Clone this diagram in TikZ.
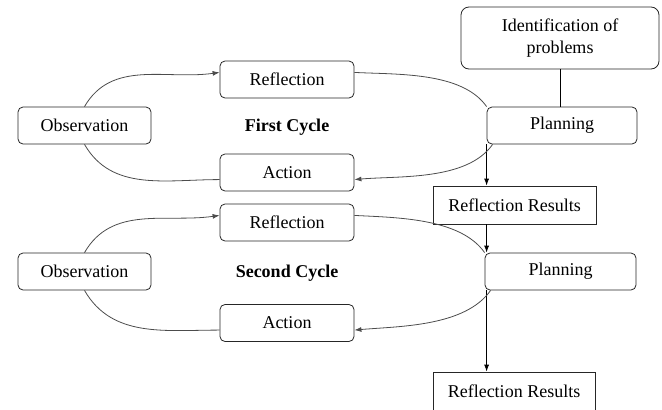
\documentclass[tikz,border=0pt]{standalone}
\usepackage{fontspec}
\setmainfont{Liberation Serif}
\newfontfamily\diagfont{Liberation Serif}
\usetikzlibrary{arrows.meta}

\begin{document}
\begin{tikzpicture}[x=1pt, y=-1pt,
		every text node part/.style={align=center},
		every node/.style={font=\diagfont\fontsize{18}{21.5}\selectfont},
		roundbox/.style={draw=black!85, line width=0.8pt, rounded corners=5pt, minimum height=37pt, inner sep=0pt},
		squarebox/.style={draw=black!85, line width=0.8pt, minimum height=38pt, minimum width=163pt, inner sep=0pt},
		cycleline/.style={draw=black!70, line width=0.8pt},
		tip/.style={-{Latex[length=7pt,width=5pt]}}]
		
		\useasboundingbox (0,0) rectangle (662,410);
		\clip (0,0) rectangle (662,410);
		
		% top right: problems and first planning
		\node[roundbox, rounded corners=8pt, minimum width=198pt, minimum height=62pt] (ident) at (560,38) {Identification of\\problems};
		\node[roundbox, minimum width=150pt] (plan1) at (562,125.5) {Planning};
		\node[squarebox] (res1) at (514.5,205) {Reflection Results};
		
		% first cycle
		\node[roundbox, minimum width=134pt] (refl1) at (287,79.5) {Reflection};
		\node[roundbox, minimum width=133pt] (obs1) at (84.5,125.5) {Observation};
		\node[roundbox, minimum width=134pt] (act1) at (287,172.5) {Action};
		\node (cyc1) at (287,127) {\textbf{First Cycle}};
		
		% second cycle
		\node[roundbox, minimum width=134pt] (refl2) at (287,222.5) {Reflection};
		\node[roundbox, minimum width=133pt] (obs2) at (84.5,271.5) {Observation};
		\node[roundbox, minimum width=134pt] (act2) at (287,323) {Action};
		\node (cyc2) at (287,273) {\textbf{Second Cycle}};
		\node[roundbox, minimum width=151pt] (plan2) at (560.5,271.5) {Planning};
		\node[squarebox, minimum width=162pt] (res2) at (514,391) {Reflection Results};
		
		% straight links
		\draw[line width=0.8pt] (ident.south) -- (ident.south |- plan1.north);
		\draw[line width=0.8pt, tip] (plan1.south west) -- (plan1.south west |- res1.north);
		\draw[line width=0.8pt, tip] (res1.south -| plan1.south west) -- (plan1.south west |- plan2.north);
		\draw[line width=0.8pt, tip] (plan1.south west |- plan2.south) -- (plan1.south west |- res2.north);
		
		% first cycle curves
		\draw[cycleline, tip] (obs1.north) to[out=60, in=188] (refl1.174);
		\draw[cycleline] (obs1.south) to[out=-60, in=180] (act1.186);
		\draw[cycleline] (refl1.6) to[out=-3, in=125, looseness=0.8] (plan1.north west);
		\draw[cycleline, tip] ([xshift=6pt]plan1.south west) to[out=-125, in=5, looseness=0.8] (act1.354);
		
		% second cycle curves
		\draw[cycleline, tip] (obs2.north) to[out=60, in=188] (refl2.174);
		\draw[cycleline] (obs2.south) to[out=-60, in=180] (act2.186);
		\draw[cycleline] (refl2.6) to[out=-3, in=125, looseness=0.8] (plan2.north west);
		\draw[cycleline, tip] ([xshift=6pt]plan2.south west) to[out=-125, in=5, looseness=0.8] (act2.354);
		
\end{tikzpicture}
\end{document}
